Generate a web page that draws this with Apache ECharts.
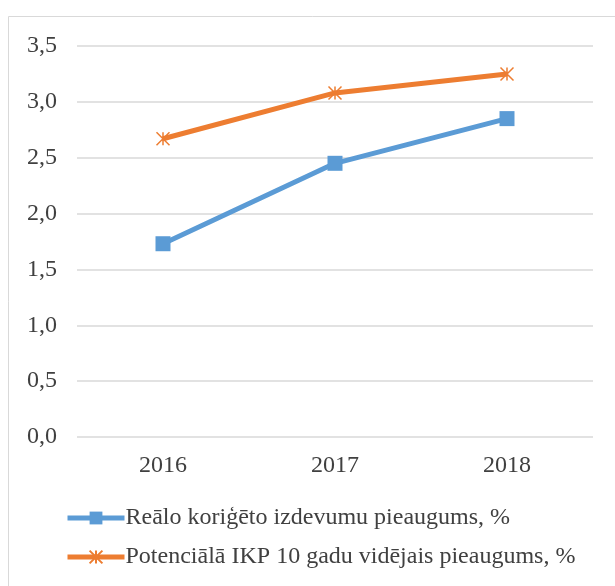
<!DOCTYPE html>
<html>
<head>
<meta charset="utf-8">
<title></title>
<script src="https://cdn.jsdelivr.net/npm/echarts@6/dist/echarts.min.js"></script>
<style>
body { margin: 0; background: #fff; }
</style>
</head>
<body>
<div id="main" style="width:615px;height:586px;"></div>
<script>
let YEARS = ['2016', '2017', '2018'];
let REAL_SPEND = [1.73, 2.45, 2.85];
let POTENTIAL_GDP = [2.67, 3.08, 3.25];
let NAMES = ['Reālo koriģēto izdevumu pieaugums, %', 'Potenciālā IKP 10 gadu vidējais pieaugums, %'];

let FONT = 'Liberation Serif';
let STAR = 'path://M0,0L10,10M10,0L0,10M5,0L5,10';

let myChart = echarts.init(document.getElementById('main'));
let option = {
	backgroundColor: '#fff',
	animation: false,
	textStyle: { fontFamily: FONT },
	graphic: [{
		type: 'rect',
		shape: { x: 8.5, y: 16.5, width: 640, height: 600 },
		style: { fill: 'none', stroke: '#d9d9d9', lineWidth: 1 }
	}],
	grid: { left: 77, right: 22, top: 46, bottom: 149, containLabel: false },
	xAxis: {
		type: 'category',
		data: YEARS,
		axisLine: { show: false },
		axisTick: { show: false },
		axisLabel: { fontFamily: FONT, fontSize: 24, color: '#404040', margin: 17 }
	},
	yAxis: {
		type: 'value',
		min: 0, max: 3.5, interval: 0.5,
		axisLine: { show: false },
		axisTick: { show: false },
		splitLine: { lineStyle: { color: '#d9d9d9', width: 1.5 } },
		axisLabel: {
			fontFamily: FONT, fontSize: 24, color: '#404040', margin: 20,
			formatter: (v) => v.toFixed(1).replace('.', ',')
		}
	},
	legend: {
		orient: 'vertical',
		left: 65, top: 506,
		padding: 0,
		itemGap: 15,
		itemWidth: 57, itemHeight: 16,
		lineStyle: { width: 5 },
		textStyle: { fontFamily: FONT, fontSize: 24, color: '#404040', padding: [0, 0, 0, -4] },
		data: NAMES
	},
	series: [{
		name: NAMES[0],
		type: 'line',
		data: REAL_SPEND,
		symbol: 'rect', symbolSize: 15,
		lineStyle: { color: '#5B9BD5', width: 5 },
		itemStyle: { color: '#5B9BD5' }
	}, {
		name: NAMES[1],
		type: 'line',
		data: POTENTIAL_GDP,
		symbol: STAR, symbolSize: 13,
		lineStyle: { color: '#ED7D31', width: 5 },
		itemStyle: { color: 'none', borderColor: '#ED7D31', borderWidth: 1.5 }
	}]
};
myChart.setOption(option);
</script>
</body>
</html>
